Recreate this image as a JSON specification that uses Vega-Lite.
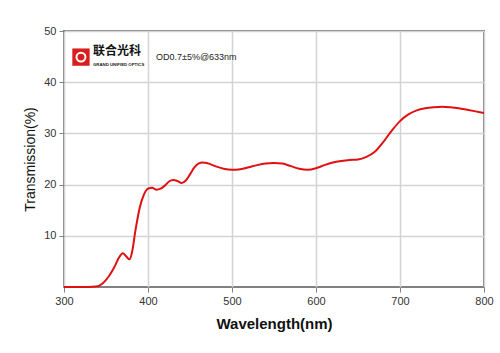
{
  "$schema": "https://vega.github.io/schema/vega-lite/v6.json",
  "width": 420,
  "height": 256,
  "autosize": "none",
  "padding": {"left": 64, "top": 31, "right": 16, "bottom": 66},
  "background": "white",
  "config": {
    "font": "Liberation Sans",
    "view": {"stroke": "#808080", "strokeWidth": 2},
    "axis": {"grid": true, "gridColor": "#d4d4d4", "gridWidth": 1.5, "domain": false, "tickColor": "#808080", "tickSize": 5, "labelFontSize": 11, "labelColor": "#333333", "titleColor": "#111111", "labelFlush": false}
  },
  "layer": [
    {
      "data": {"values": [
        {"nm": 300, "t": 0}, {"nm": 320, "t": 0}, {"nm": 338, "t": 0.1}, {"nm": 346, "t": 0.7},
        {"nm": 353, "t": 2.0}, {"nm": 360, "t": 3.9}, {"nm": 366, "t": 5.9}, {"nm": 370, "t": 6.6},
        {"nm": 374, "t": 6.0}, {"nm": 378, "t": 5.4}, {"nm": 381, "t": 6.8}, {"nm": 385, "t": 11.0},
        {"nm": 390, "t": 15.4}, {"nm": 395, "t": 18.0}, {"nm": 400, "t": 19.2}, {"nm": 405, "t": 19.4},
        {"nm": 410, "t": 19.0}, {"nm": 415, "t": 19.2}, {"nm": 420, "t": 19.8}, {"nm": 425, "t": 20.6},
        {"nm": 430, "t": 20.9}, {"nm": 435, "t": 20.7}, {"nm": 440, "t": 20.3}, {"nm": 445, "t": 20.8},
        {"nm": 450, "t": 22.0}, {"nm": 455, "t": 23.3}, {"nm": 460, "t": 24.1}, {"nm": 465, "t": 24.3},
        {"nm": 470, "t": 24.2}, {"nm": 480, "t": 23.6}, {"nm": 490, "t": 23.1}, {"nm": 500, "t": 22.9},
        {"nm": 510, "t": 23.0}, {"nm": 520, "t": 23.4}, {"nm": 530, "t": 23.8}, {"nm": 540, "t": 24.1},
        {"nm": 550, "t": 24.2}, {"nm": 560, "t": 24.1}, {"nm": 570, "t": 23.6}, {"nm": 580, "t": 23.1},
        {"nm": 590, "t": 22.9}, {"nm": 600, "t": 23.2}, {"nm": 610, "t": 23.8}, {"nm": 620, "t": 24.3},
        {"nm": 630, "t": 24.6}, {"nm": 640, "t": 24.8}, {"nm": 650, "t": 24.9}, {"nm": 660, "t": 25.4},
        {"nm": 670, "t": 26.4}, {"nm": 680, "t": 28.3}, {"nm": 690, "t": 30.5}, {"nm": 700, "t": 32.4},
        {"nm": 710, "t": 33.7}, {"nm": 720, "t": 34.5}, {"nm": 730, "t": 34.9}, {"nm": 740, "t": 35.1},
        {"nm": 750, "t": 35.2}, {"nm": 760, "t": 35.1}, {"nm": 770, "t": 34.9}, {"nm": 780, "t": 34.6},
        {"nm": 790, "t": 34.3}, {"nm": 800, "t": 34.0}
      ]},
      "mark": {"type": "line", "color": "#e01010", "strokeWidth": 2, "interpolate": "monotone", "clip": false},
      "encoding": {
        "x": {"field": "nm", "type": "quantitative", "scale": {"domain": [300, 800], "nice": false},
          "axis": {"values": [300, 400, 500, 600, 700, 800], "title": "Wavelength(nm)", "titleFontSize": 15, "titleFontWeight": "bold", "titlePadding": 10, "labelPadding": 3}},
        "y": {"field": "t", "type": "quantitative", "scale": {"domain": [0, 50], "nice": false},
          "axis": {"values": [10, 20, 30, 40, 50], "title": "Transmission(%)", "titleFontSize": 14, "titleFontWeight": "normal", "titlePadding": 6, "labelPadding": 3}}
      }
    },
    {
      "data": {"values": [{"nm": 320.2, "t": 44.9}]},
      "mark": {"type": "point", "shape": "square", "filled": true, "color": "#d81e1e", "size": 300, "opacity": 1},
      "encoding": {"x": {"field": "nm", "type": "quantitative"}, "y": {"field": "t", "type": "quantitative"}}
    },
    {
      "data": {"values": [{"nm": 320.2, "t": 44.9}]},
      "mark": {"type": "point", "shape": "circle", "filled": false, "color": "white", "size": 80, "strokeWidth": 2, "opacity": 1},
      "encoding": {"x": {"field": "nm", "type": "quantitative"}, "y": {"field": "t", "type": "quantitative"}}
    },
    {
      "data": {"values": [{"nm": 334.5, "t": 46.0, "label": "联合光科"}]},
      "mark": {"type": "text", "align": "left", "baseline": "middle", "font": "Noto Sans CJK SC", "fontSize": 12, "fontWeight": "bold", "color": "#111111"},
      "encoding": {"x": {"field": "nm", "type": "quantitative"}, "y": {"field": "t", "type": "quantitative"}, "text": {"field": "label"}}
    },
    {
      "data": {"values": [{"nm": 334.5, "t": 43.3, "label": "GRAND UNIFIED OPTICS"}]},
      "mark": {"type": "text", "align": "left", "baseline": "middle", "fontSize": 4.3, "fontWeight": "bold", "color": "#222222"},
      "encoding": {"x": {"field": "nm", "type": "quantitative"}, "y": {"field": "t", "type": "quantitative"}, "text": {"field": "label"}}
    },
    {
      "data": {"values": [{"nm": 409.5, "t": 44.9, "label": "OD0.7±5%@633nm"}]},
      "mark": {"type": "text", "align": "left", "baseline": "middle", "fontSize": 9, "color": "#222222"},
      "encoding": {"x": {"field": "nm", "type": "quantitative"}, "y": {"field": "t", "type": "quantitative"}, "text": {"field": "label"}}
    }
  ]
}
